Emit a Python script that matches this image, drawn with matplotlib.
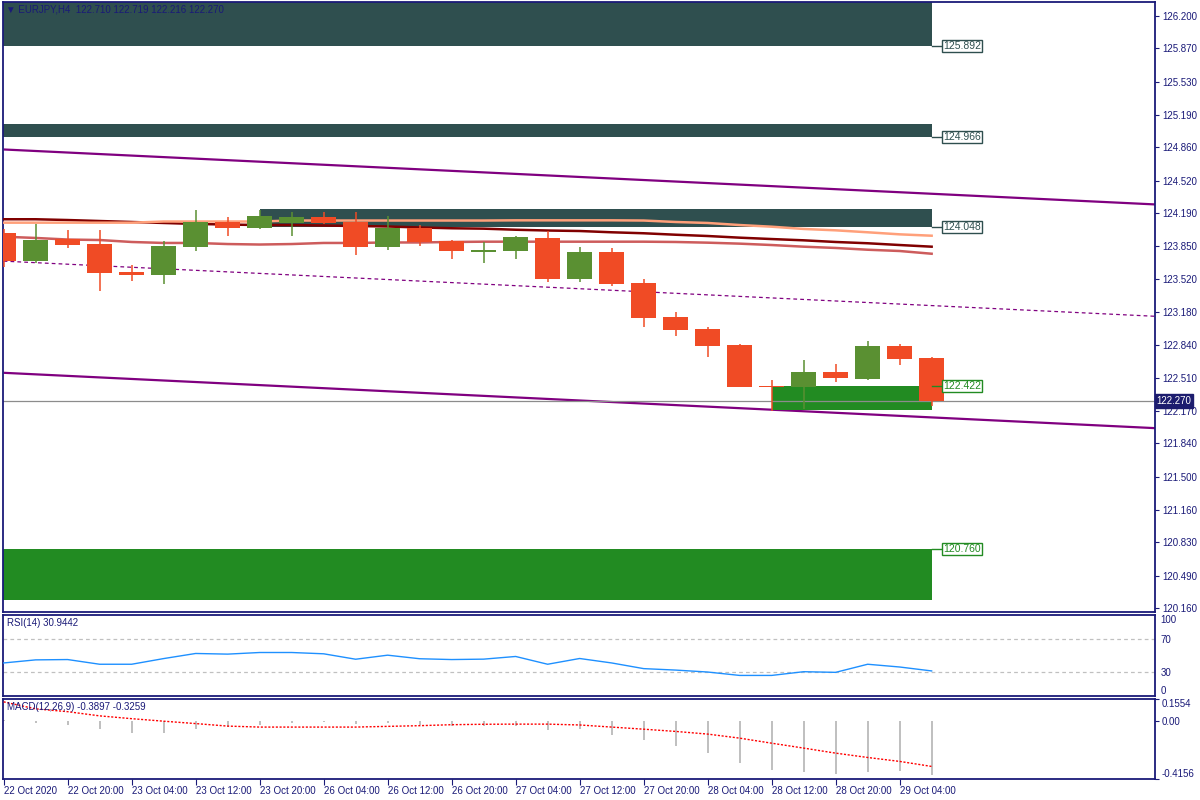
import matplotlib
matplotlib.use('Agg')
import matplotlib.pyplot as plt
import matplotlib.transforms as mtransforms
from matplotlib.patches import Rectangle

plt.rcParams['font.family'] = ['Liberation Sans', 'DejaVu Sans']

# ---------------- data ----------------
header_text = "\u25BC EURJPY,H4  122.710 122.719 122.216 122.270"
x_labels = ["22 Oct 2020", "22 Oct 20:00", "23 Oct 04:00", "23 Oct 12:00", "23 Oct 20:00",
            "26 Oct 04:00", "26 Oct 12:00", "26 Oct 20:00", "27 Oct 04:00", "27 Oct 12:00",
            "27 Oct 20:00", "28 Oct 04:00", "28 Oct 12:00", "28 Oct 20:00", "29 Oct 04:00"]
x_label_bars = [0, 2, 4, 6, 8, 10, 12, 14, 16, 18, 20, 22, 24, 26, 28]

opens = [123.986, 123.700, 123.921, 123.873, 123.588, 123.557, 123.843, 124.098, 124.037, 124.088,
         124.149, 124.098, 123.843, 124.037, 123.904, 123.792, 123.802, 123.935, 123.516, 123.792,
         123.476, 123.129, 123.006, 122.843, 122.424, 122.414, 122.567, 122.496, 122.833, 122.710]
highs = [124.027, 124.078, 124.016, 124.016, 123.659, 123.904, 124.220, 124.149, 124.220, 124.197,
         124.200, 124.200, 124.159, 124.067, 123.914, 123.897, 123.955, 124.009, 123.843, 123.833,
         123.516, 123.180, 123.027, 122.850, 122.486, 122.690, 122.649, 122.884, 122.853, 122.719]
lows = [123.639, 123.680, 123.836, 123.397, 123.499, 123.465, 123.802, 123.955, 124.030, 123.958,
        124.078, 123.761, 123.812, 123.853, 123.720, 123.683, 123.720, 123.486, 123.486, 123.445,
        123.027, 122.935, 122.720, 122.410, 122.169, 122.190, 122.465, 122.486, 122.639, 122.216]
closes = [123.700, 123.914, 123.863, 123.580, 123.557, 123.853, 124.098, 124.037, 124.159, 124.149,
          124.088, 123.843, 124.037, 123.894, 123.802, 123.812, 123.945, 123.516, 123.792, 123.465,
          123.118, 122.996, 122.833, 122.414, 122.414, 122.567, 122.506, 122.833, 122.700, 122.270]

ma_maroon = [124.126, 124.126, 124.118, 124.108, 124.098, 124.088, 124.078, 124.072, 124.067, 124.067,
             124.062, 124.057, 124.052, 124.042, 124.034, 124.030, 124.019, 124.011, 124.006, 123.993,
             123.983, 123.968, 123.955, 123.938, 123.924, 123.911, 123.894, 123.881, 123.863, 123.846]
ma_salmon = [124.091, 124.091, 124.091, 124.091, 124.091, 124.103, 124.103, 124.103, 124.103, 124.113,
             124.113, 124.113, 124.113, 124.113, 124.113, 124.113, 124.115, 124.115, 124.115, 124.115,
             124.113, 124.098, 124.088, 124.067, 124.050, 124.027, 124.013, 123.993, 123.972, 123.958]
ma_indianred = [123.948, 123.935, 123.919, 123.914, 123.894, 123.884, 123.884, 123.873, 123.868, 123.873,
                123.884, 123.884, 123.889, 123.889, 123.894, 123.897, 123.897, 123.897, 123.897, 123.897,
                123.897, 123.894, 123.887, 123.877, 123.863, 123.846, 123.833, 123.815, 123.802, 123.774]

channel_bars = [0, 36]
channel_upper = [124.838, 124.277]
channel_lower = [122.559, 121.994]

zone_low = [125.892, 124.966, 124.048, 122.176, 120.241]
zone_high = [126.400, 125.098, 124.231, 122.422, 120.760]
zone_start = [-1, -1, 8, 24, -1]
zone_end = [29, 29, 29, 29, 29]
zone_kind = ["supply", "supply", "supply", "demand", "demand"]
zone_label = [125.892, 124.966, 124.048, 122.422, 120.760]

bid_price = 122.270
price_ticks = [126.200, 125.870, 125.530, 125.190, 124.860, 124.520, 124.190, 123.850, 123.520,
               123.180, 122.840, 122.510, 122.170, 121.840, 121.500, 121.160, 120.830, 120.490, 120.160]

rsi = [40.8, 44.6, 45.0, 39.2, 39.2, 46.2, 52.5, 51.7, 53.7, 53.7, 52.1, 45.4, 50.4, 46.0, 45.0,
       45.5, 48.8, 39.2, 46.3, 40.8, 33.8, 32.0, 29.6, 25.4, 25.4, 30.0, 29.2, 39.2, 35.8, 30.9442]
rsi_levels = [70, 30]

macd_hist = [0.003, -0.014, -0.029, -0.062, -0.090, -0.086, -0.062, -0.045, -0.029, -0.014,
             -0.007, -0.021, -0.014, -0.029, -0.040, -0.036, -0.036, -0.069, -0.062, -0.098,
             -0.140, -0.183, -0.233, -0.298, -0.348, -0.369, -0.383, -0.369, -0.362, -0.3897]
macd_signal = [0.135, 0.085, 0.065, 0.035, 0.015, -0.003, -0.020, -0.038, -0.045, -0.045,
               -0.045, -0.045, -0.040, -0.035, -0.028, -0.025, -0.024, -0.024, -0.030, -0.045,
               -0.060, -0.076, -0.095, -0.124, -0.160, -0.195, -0.231, -0.262, -0.290, -0.3259]
macd_ticks = [0.1554, 0.0, -0.4156]
macd_tick_labels = ["0.1554", "0.00", "-0.4156"]

# ---------------- style ----------------
NAVY = '#1a1a78'
BULL = '#5a9032'
BEAR = '#f04b25'
DARKZ = '#2f4f4f'
GREENZ = '#228b22'
PURPLE = '#800080'
FS = 7

W, H = 1200, 800
fig = plt.figure(figsize=(12, 8), dpi=100)
fig.patch.set_facecolor('white')

def axrect(x0, y0, x1, y1):
    return [x0 / W, 1 - y1 / H, (x1 - x0) / W, (y1 - y0) / H]

ax = fig.add_axes(axrect(3, 2, 1155, 612))
ax_rsi = fig.add_axes(axrect(3, 615, 1155, 696))
ax_macd = fig.add_axes(axrect(3, 699, 1155, 779))

XLIM = (-0.02, 35.98)
for a in (ax, ax_rsi, ax_macd):
    a.set_xlim(*XLIM)
    a.set_facecolor('white')
    for s in a.spines.values():
        s.set_color(NAVY)
        s.set_linewidth(1.3)
    a.yaxis.tick_right()
    a.tick_params(axis='y', direction='out', length=3, width=0.8, color=NAVY,
                  labelsize=FS, labelcolor=NAVY, pad=2)
    a.set_xticks([])

# ---- main price panel ----
n = len(opens)
bars = list(range(n))
ax.set_ylim(120.118, 126.343)
ax.set_yticks(price_ticks)
ax.set_yticklabels([f"{p:.3f}" for p in price_ticks])

# zones
for lo, hi, st, en, kind in zip(zone_low, zone_high, zone_start, zone_end, zone_kind):
    c = DARKZ if kind == "supply" else GREENZ
    ax.add_patch(Rectangle((st, lo), en - st, hi - lo, facecolor=c, edgecolor='none', zorder=1))

# channel
ax.plot(channel_bars, channel_upper, color=PURPLE, lw=1.6, zorder=0.8, solid_capstyle='butt')
ax.plot(channel_bars, channel_lower, color=PURPLE, lw=1.6, zorder=0.8, solid_capstyle='butt')
mid = [(u + l) / 2 for u, l in zip(channel_upper, channel_lower)]
ax.plot(channel_bars, mid, color=PURPLE, lw=0.9, ls=(0, (3, 2.5)), zorder=0.8)

# bid line
ax.axhline(bid_price, color='#8c8c8c', lw=0.9, zorder=2.5)

# MAs
ax.plot(bars, ma_maroon, color='#800000', lw=1.8, zorder=3)
ax.plot(bars, ma_salmon, color='#ffa07a', lw=1.8, zorder=3)
ax.plot(bars, ma_indianred, color='#cd5c5c', lw=1.8, zorder=3)

# candles
for i, o, h, l, c in zip(bars, opens, highs, lows, closes):
    col = BULL if c >= o else BEAR
    ax.vlines(i, l, h, color=col, lw=1.1, zorder=4)
    body_lo, body_hi = min(o, c), max(o, c)
    height = max(body_hi - body_lo, 0.011)
    ax.add_patch(Rectangle((i - 0.39, body_lo), 0.78, height, facecolor=col,
                           edgecolor='none', zorder=4.5))

# zone labels
for lbl, kind in zip(zone_label, zone_kind):
    c = DARKZ if kind == "supply" else GREENZ
    ax.plot([29, 29.34], [lbl, lbl], color=c, lw=1.0, zorder=5, clip_on=False)
    ax.text(29.36, lbl, f"{lbl:.3f}", ha='left', va='center', fontsize=FS + 0.5, color=c,
            zorder=6, bbox=dict(boxstyle='square,pad=0.12', fc='white', ec=c, lw=1.0))

# bid label on the axis
trans = mtransforms.blended_transform_factory(ax.transAxes, ax.transData)
ax.text(1.0015, bid_price, f"{bid_price:.3f}", transform=trans, ha='left', va='center',
        fontsize=FS, color='white', zorder=10, clip_on=False,
        bbox=dict(boxstyle='square,pad=0.18', fc='#1c1c6e', ec='#1c1c6e'))

fig.text(6 / W, 1 - 10 / H, header_text, ha='left', va='center', fontsize=FS, color=NAVY,
         family=['Liberation Sans', 'DejaVu Sans'])

# ---- RSI panel ----
ax_rsi.set_ylim(0, 100)
ax_rsi.set_yticks([100, 70, 30, 0])
ax_rsi.set_yticklabels(["100", "70", "30", "0"])
ax_rsi.tick_params(axis='y', length=0, pad=4)
tl = ax_rsi.get_yticklabels()
tl[0].set_va('top')
tl[3].set_va('bottom')
for lv in rsi_levels:
    ax_rsi.axhline(lv, color='#c0c0c0', lw=0.9, ls=(0, (3, 2.5)), zorder=1)
ax_rsi.plot(bars, rsi, color='#1e90ff', lw=1.0, zorder=3)
ax_rsi.text(0.0035, 0.90, f"RSI(14) {rsi[-1]:.4f}", transform=ax_rsi.transAxes,
            ha='left', va='center', fontsize=FS, color=NAVY)

# ---- MACD panel ----
ax_macd.set_ylim(-0.4156, 0.1554)
ax_macd.set_yticks(macd_ticks)
ax_macd.set_yticklabels(macd_tick_labels)
tl = ax_macd.get_yticklabels()
tl[0].set_va('top')
tl[2].set_va('bottom')
ax_macd.bar(bars, macd_hist, width=0.07, color='#c0c0c0', zorder=2)
ax_macd.plot(bars, macd_signal, color='#ff0000', lw=1.0, ls=(0, (1.5, 1.2)), zorder=3)
ax_macd.text(0.0035, 0.90, f"MACD(12,26,9) {macd_hist[-1]:.4f} {macd_signal[-1]:.4f}",
             transform=ax_macd.transAxes, ha='left', va='center', fontsize=FS, color=NAVY, zorder=5)
ax_macd.set_xticks(x_label_bars)
ax_macd.set_xticklabels(x_labels, ha='left')
ax_macd.tick_params(axis='x', direction='out', length=4, width=0.8, color=NAVY,
                    labelsize=FS, labelcolor=NAVY, pad=1)

fig.savefig('out.png', dpi=100, facecolor='white')
